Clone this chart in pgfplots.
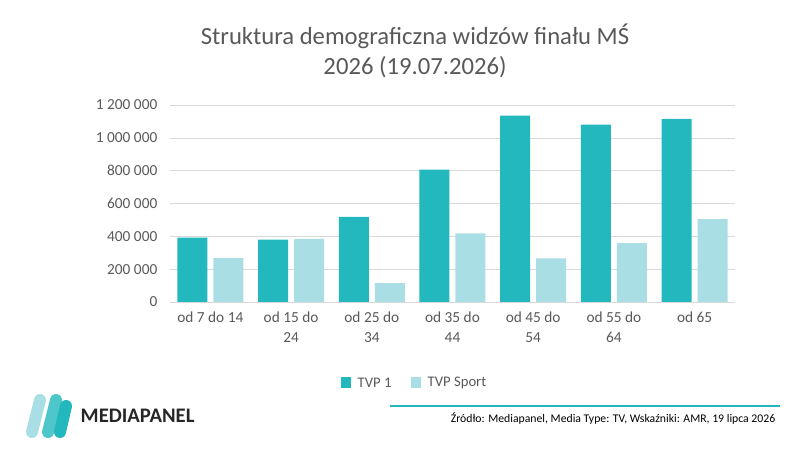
\documentclass[border=0pt]{standalone}
\usepackage{pgfplots}
\pgfplotsset{compat=1.18}
\usepackage{fontspec}
\setmainfont{Carlito}
\definecolor{tvpa}{HTML}{22B8BD}
\definecolor{tvpb}{HTML}{A9DFE4}
\definecolor{gridc}{HTML}{D9D9D9}
\definecolor{txt}{HTML}{595959}
\begin{document}
\begin{tikzpicture}
\begin{scope}[x=0.75pt,y=0.75pt]
\path (0,0) rectangle (800,450);
\node[txt,font=\fontsize{18.5}{23}\selectfont,align=center] at (415,399) {Struktura demograficzna widzów finału MŚ\\2026 (19.07.2026)};
\fill[tvpa] (341,62) rectangle (351,73);
\node[anchor=west,txt,font=\fontsize{11}{13}\selectfont] at (353,67) {TVP 1};
\fill[tvpb] (411,62) rectangle (421,73);
\node[anchor=west,txt,font=\fontsize{11}{13}\selectfont] at (423,67) {TVP Sport};
\draw[tvpa,line width=1pt] (390,44) -- (780,44);
\node[anchor=east,font=\fontsize{8.8}{10}\selectfont] at (780,31) {Źródło: Mediapanel, Media Type: TV, Wskaźniki: AMR, 19 lipca 2026};
\draw[tvpb,line width=9pt,line cap=round] (32,18) -- (40,50);
\draw[tvpa!80,line width=9pt,line cap=round] (48,18) -- (56,50);
\draw[tvpa,line width=9pt,line cap=round] (60,18) -- (66,44);
\node[anchor=west,font=\fontsize{15.5}{18}\selectfont\bfseries,text=black!85] at (76,34) {MEDIAPANEL};
\end{scope}
\begin{axis}[at={(127.5pt,111pt)},anchor=south west,scale only axis,
 width=423.75pt,height=147.75pt,
 xmin=-0.5,xmax=6.5,ymin=0,ymax=1200000,
 ytick={0,200000,400000,600000,800000,1000000,1200000},
 yticklabels={0,200 000,400 000,600 000,800 000,1 000 000,1 200 000},
 xtick={0,...,6},
 xticklabels={od 7 do 14,od 15 do\\24,od 25 do\\34,od 35 do\\44,od 45 do\\54,od 55 do\\64,od 65},
 xticklabel style={align=center,text=txt,font=\fontsize{11.5}{15}\selectfont,yshift=-4pt},
 yticklabel style={text=txt,font=\fontsize{11.5}{13}\selectfont,xshift=-6pt},
 ymajorgrids,xmajorgrids=false,grid style={gridc},
 axis x line*=bottom,axis y line*=left,y axis line style={draw=none},x axis line style={gridc,-},
 major tick length=0pt,
 ybar,bar width=22.5pt,
 scaled y ticks=false]
\addplot[fill=tvpa,draw=none,bar shift=-13.5pt] coordinates {(0,392000)(1,380000)(2,518000)(3,806000)(4,1135000)(5,1080000)(6,1115000)};
\addplot[fill=tvpb,draw=none,bar shift=13.5pt] coordinates {(0,268000)(1,385000)(2,115000)(3,418000)(4,265000)(5,358000)(6,505000)};
\end{axis}
\end{tikzpicture}
\end{document}
